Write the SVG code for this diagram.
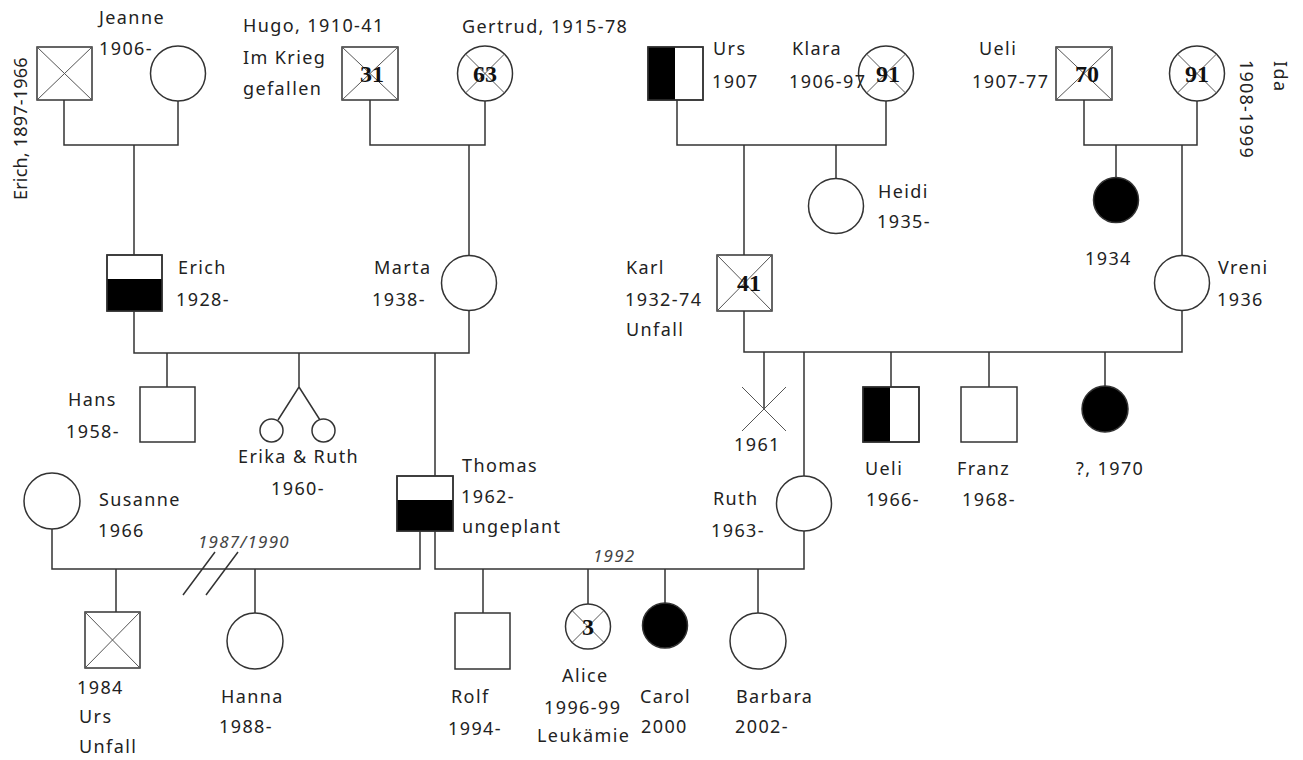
<svg xmlns="http://www.w3.org/2000/svg" width="1303" height="760" viewBox="0 0 1303 760">
<style>
.ln{stroke:#333;stroke-width:1.5;fill:none}
.sym{stroke:#333;stroke-width:1.5;fill:#fff}
.blk{fill:#000;stroke:#333;stroke-width:1.5}
.half{fill:#000;stroke:none}
.x{stroke:#555;stroke-width:1;fill:none}
.t{font-family:"Noto Sans",sans-serif;font-size:18px;letter-spacing:1.4px;fill:#222}
.n{font-family:"Liberation Serif",serif;font-weight:bold;font-size:24px;text-anchor:middle;fill:#111}
.i{font-family:"Noto Sans",sans-serif;font-style:italic;font-size:17px;letter-spacing:1.2px;fill:#444}
</style>
<rect width="1303" height="760" fill="#fff"/>
<g id="connectors">
<path class="ln" d="M64,100 V145 H178 V101 M134,145 V255"/>
<path class="ln" d="M370,100 V145 H485 V101 M469,145 V255"/>
<path class="ln" d="M677,100 V145 H886 V101 M744,145 V255 M836,145 V178"/>
<path class="ln" d="M1084,100 V145 H1197 V101 M1116,145 V178 M1182,145 V255"/>
<path class="ln" d="M134,311 V353 H469 V311 M167,353 V387 M299,353 V387 L278,420 M299,387 L320,420 M435,353 V476"/>
<path class="ln" d="M744,311 V352 H1182 V311 M764,352 V409 M804,352 V476 M891,352 V387 M989,352 V387 M1105,352 V386"/>
<path class="ln" d="M52,529 V569 H420 V531 M116,569 V612 M255,569 V613"/>
<path class="ln" d="M183,595 L215,552 M206,595 L238,552"/>
<path class="ln" d="M435,531 V569 H804 V531 M483,569 V613 M588,569 V604 M665,569 V603 M758,569 V613"/>
</g>
<g id="erich-sr"><rect class="sym" x="37" y="47" width="55" height="53"/><path class="x" d="M37,47 L92,100 M92,47 L37,100"/>
<text class="t" style="letter-spacing:0.2px" transform="translate(27,200) rotate(-90)">Erich, 1897-1966</text></g>
<g id="jeanne"><circle class="sym" cx="178" cy="73.5" r="27.5"/><text class="t" x="99" y="24">Jeanne</text><text class="t" x="99" y="55">1906-</text></g>
<g id="hugo"><rect class="sym" x="342" y="47" width="56" height="53"/><path class="x" d="M342,47 L398,100 M398,47 L342,100"/><text class="n" x="372" y="82">31</text>
<text class="t" x="243" y="32">Hugo, 1910-41</text><text class="t" x="243" y="64">Im Krieg</text><text class="t" x="243" y="95">gefallen</text></g>
<g id="gertrud"><circle class="sym" cx="485" cy="73.5" r="27.5"/><path class="x" d="M465.5,54 L504.5,93 M504.5,54 L465.5,93"/><text class="n" x="485" y="82">63</text><text class="t" x="462" y="33">Gertrud, 1915-78</text></g>
<g id="urs-sr"><rect class="sym" x="648" y="47" width="55" height="53"/><rect class="half" x="648" y="47" width="27" height="53"/><rect class="ln" x="648" y="47" width="55" height="53"/>
<text class="t" x="713" y="55">Urs</text><text class="t" x="712" y="88">1907</text></g>
<g id="klara"><circle class="sym" cx="886" cy="73.5" r="27.5"/><path class="x" d="M866.5,54 L905.5,93 M905.5,54 L866.5,93"/><text class="n" x="888" y="82">91</text>
<text class="t" x="792" y="55">Klara</text><text class="t" x="789" y="88">1906-97</text></g>
<g id="ueli-sr"><rect class="sym" x="1056" y="47" width="56" height="53"/><path class="x" d="M1056,47 L1112,100 M1112,47 L1056,100"/><text class="n" x="1087" y="82">70</text>
<text class="t" x="979" y="55">Ueli</text><text class="t" x="972" y="88">1907-77</text></g>
<g id="ida"><circle class="sym" cx="1197" cy="73.5" r="27.5"/><path class="x" d="M1177.5,54 L1216.5,93 M1216.5,54 L1177.5,93"/><text class="n" x="1197" y="82">91</text>
<text class="t" transform="translate(1274,61) rotate(90)">Ida</text><text class="t" style="letter-spacing:1.2px" transform="translate(1240,60) rotate(90)">1908-1999</text></g>
<g id="erich"><rect class="sym" x="107" y="255" width="55" height="56"/><rect class="half" x="107" y="279" width="55" height="32"/><rect class="ln" x="107" y="255" width="55" height="56"/>
<text class="t" x="178" y="274">Erich</text><text class="t" x="176" y="306">1928-</text></g>
<g id="marta"><circle class="sym" cx="469" cy="283" r="27.5"/><text class="t" x="374" y="274">Marta</text><text class="t" x="372" y="306">1938-</text></g>
<g id="heidi"><circle class="sym" cx="836" cy="206" r="27.5"/><text class="t" x="878" y="198">Heidi</text><text class="t" x="877" y="228">1935-</text></g>
<g id="f1934"><circle class="blk" cx="1116" cy="200" r="22.5"/><text class="t" x="1085" y="265">1934</text></g>
<g id="karl"><rect class="sym" x="717" y="255" width="55" height="56"/><path class="x" d="M717,255 L772,311 M772,255 L717,311"/><text class="n" x="749" y="291">41</text>
<text class="t" x="626" y="274">Karl</text><text class="t" x="625" y="306">1932-74</text><text class="t" x="626" y="336">Unfall</text></g>
<g id="vreni"><circle class="sym" cx="1182" cy="283" r="27.5"/><text class="t" x="1218" y="274">Vreni</text><text class="t" x="1217" y="306">1936</text></g>
<g id="hans"><rect class="sym" x="140" y="387" width="55" height="55"/><text class="t" x="68" y="406">Hans</text><text class="t" x="66" y="438">1958-</text></g>
<g id="twins"><circle class="sym" cx="271.5" cy="430.5" r="11.5"/><circle class="sym" cx="323.5" cy="430.5" r="11.5"/>
<text class="t" x="238" y="463">Erika &amp; Ruth</text><text class="t" x="271" y="495">1960-</text></g>
<g id="miscarriage"><path class="x" d="M742,387 L786,431 M786,387 L742,431"/><text class="t" x="734" y="451">1961</text></g>
<g id="ueli"><rect class="sym" x="863" y="387" width="56" height="55"/><rect class="half" x="863" y="387" width="27" height="55"/><rect class="ln" x="863" y="387" width="56" height="55"/>
<text class="t" x="865" y="475">Ueli</text><text class="t" x="866" y="506">1966-</text></g>
<g id="franz"><rect class="sym" x="961" y="387" width="56" height="55"/><text class="t" x="957" y="475">Franz</text><text class="t" x="962" y="506">1968-</text></g>
<g id="f1970"><circle class="blk" cx="1105" cy="409" r="23"/><text class="t" x="1076" y="475">?, 1970</text></g>
<g id="thomas"><rect class="sym" x="397" y="476" width="56" height="55"/><rect class="half" x="397" y="500" width="56" height="31"/><rect class="ln" x="397" y="476" width="56" height="55"/>
<text class="t" x="462" y="472">Thomas</text><text class="t" x="461" y="503">1962-</text><text class="t" x="462" y="533">ungeplant</text></g>
<g id="ruth"><circle class="sym" cx="804" cy="503.5" r="27.5"/><text class="t" x="713" y="505">Ruth</text><text class="t" x="711" y="537">1963-</text></g>
<g id="susanne"><circle class="sym" cx="52" cy="501" r="28"/><text class="t" x="99" y="506">Susanne</text><text class="t" x="98" y="537">1966</text></g>
<text class="i" x="198" y="548">1987/1990</text>
<text class="i" x="593" y="562">1992</text>
<g id="urs"><rect class="sym" x="85" y="612" width="55" height="56"/><path class="x" d="M85,612 L140,668 M140,612 L85,668"/>
<text class="t" x="77" y="694">1984</text><text class="t" x="79" y="723">Urs</text><text class="t" x="79" y="753">Unfall</text></g>
<g id="hanna"><circle class="sym" cx="255" cy="641" r="28"/><text class="t" x="221" y="703">Hanna</text><text class="t" x="219" y="733">1988-</text></g>
<g id="rolf"><rect class="sym" x="455" y="613" width="55" height="56"/><text class="t" x="451" y="703">Rolf</text><text class="t" x="448" y="735">1994-</text></g>
<g id="alice"><circle class="sym" cx="588" cy="626.5" r="22.5"/><path class="x" d="M572,610.5 L604,642.5 M604,610.5 L572,642.5"/><text class="n" x="588" y="635">3</text>
<text class="t" x="562" y="682">Alice</text><text class="t" x="544" y="714">1996-99</text><text class="t" x="537" y="742">Leukämie</text></g>
<g id="carol"><circle class="blk" cx="665" cy="625.5" r="22.5"/><text class="t" x="640" y="703">Carol</text><text class="t" x="641" y="733">2000</text></g>
<g id="barbara"><circle class="sym" cx="758" cy="641" r="28"/><text class="t" x="736" y="703">Barbara</text><text class="t" x="735" y="733">2002-</text></g>
</svg>
